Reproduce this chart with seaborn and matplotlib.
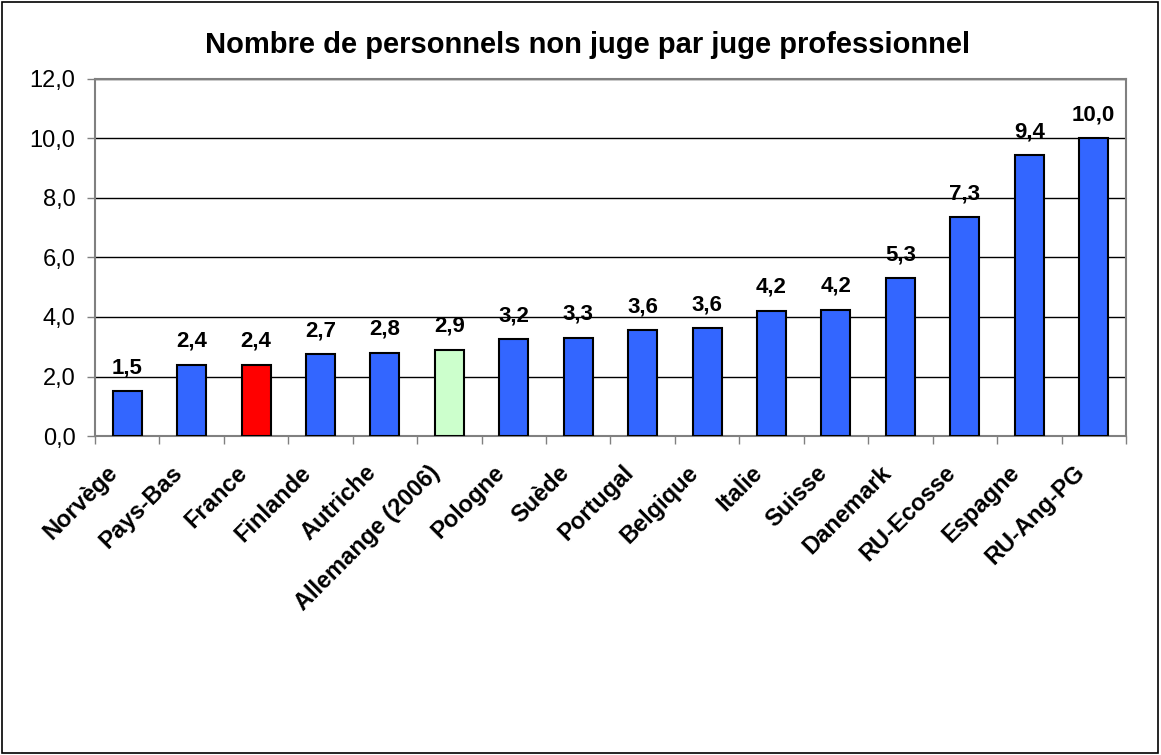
import matplotlib
matplotlib.use("Agg")
import matplotlib.pyplot as plt
import matplotlib.transforms as mtransforms
import seaborn as sns
import pandas as pd
from matplotlib.patches import Rectangle

pays = ["Norvège", "Pays-Bas", "France", "Finlande", "Autriche", "Allemange (2006)",
        "Pologne", "Suède", "Portugal", "Belgique", "Italie", "Suisse", "Danemark",
        "RU-Ecosse", "Espagne", "RU-Ang-PG"]
valeurs = [1.5, 2.4, 2.4, 2.75, 2.8, 2.9, 3.25, 3.3, 3.55, 3.62, 4.2, 4.25, 5.3, 7.35, 9.43, 10.0]
etiquettes = ["1,5", "2,4", "2,4", "2,7", "2,8", "2,9", "3,2", "3,3", "3,6", "3,6",
              "4,2", "4,2", "5,3", "7,3", "9,4", "10,0"]
couleurs = ["#3366FF", "#3366FF", "#FF0000", "#3366FF", "#3366FF", "#CCFFCC",
            "#3366FF", "#3366FF", "#3366FF", "#3366FF", "#3366FF", "#3366FF",
            "#3366FF", "#3366FF", "#3366FF", "#3366FF"]
yticks = [0, 2, 4, 6, 8, 10, 12]
ytick_labels = ["0,0", "2,0", "4,0", "6,0", "8,0", "10,0", "12,0"]

sns.set_theme(style="white")
plt.rcParams['font.family'] = ['Liberation Sans', 'DejaVu Sans']
plt.rcParams['text.color'] = 'black'
plt.rcParams['xtick.color'] = 'black'
plt.rcParams['ytick.color'] = 'black'

df = pd.DataFrame({"pays": pays, "val": valeurs})

fig = plt.figure(figsize=(11.61, 7.55), dpi=100)
fig.patches.append(Rectangle((0.002, 0.003), 0.995, 0.994, transform=fig.transFigure,
                             fill=False, edgecolor="black", linewidth=1.2))
ax = fig.add_axes([0.0818, 0.4225, 0.888, 0.4729])

sns.barplot(data=df, x="pays", y="val", hue="pays", palette=couleurs, legend=False,
            saturation=1, width=0.45, edgecolor="black", linewidth=1.5, ax=ax, zorder=3)

ax.set_ylim(0, 12)
ax.set_xlim(-0.5, len(pays) - 0.5)
ax.set_yticks(yticks)
ax.set_yticklabels(ytick_labels, fontsize=17)
ax.yaxis.grid(True, color="black", linewidth=1.0, zorder=0)
ax.set_axisbelow(True)

ax.set_xticks(range(len(pays)))
ax.set_xticklabels(pays, rotation=45, ha="right", va="top", rotation_mode="anchor",
                   fontsize=17, fontweight="bold")
ax.tick_params(axis="x", length=0, pad=18)
offset = mtransforms.ScaledTranslation(-0.21, 0, fig.dpi_scale_trans)
for lab in ax.get_xticklabels():
    lab.set_transform(lab.get_transform() + offset)
ax.tick_params(axis="y", left=True, length=6, width=1, color="#808080", pad=8)
ax.set_xticks([i - 0.5 for i in range(len(pays) + 1)], minor=True)
ax.tick_params(axis="x", which="minor", bottom=True, length=6, width=1, color="#808080")

for s in ["top", "right", "left", "bottom"]:
    ax.spines[s].set_color("#808080")
    ax.spines[s].set_linewidth(1.5)

for i, (v, t) in enumerate(zip(valeurs, etiquettes)):
    ax.annotate(t, (i, v), xytext=(0, 13), textcoords="offset points",
                ha="center", va="baseline", fontsize=16, fontweight="bold")

ax.set_xlabel("")
ax.set_ylabel("")
fig.text(0.506, 0.9298, "Nombre de personnels non juge par juge professionnel",
         ha="center", va="baseline", fontsize=21, fontweight="bold")

fig.savefig("out.png", dpi=100)
